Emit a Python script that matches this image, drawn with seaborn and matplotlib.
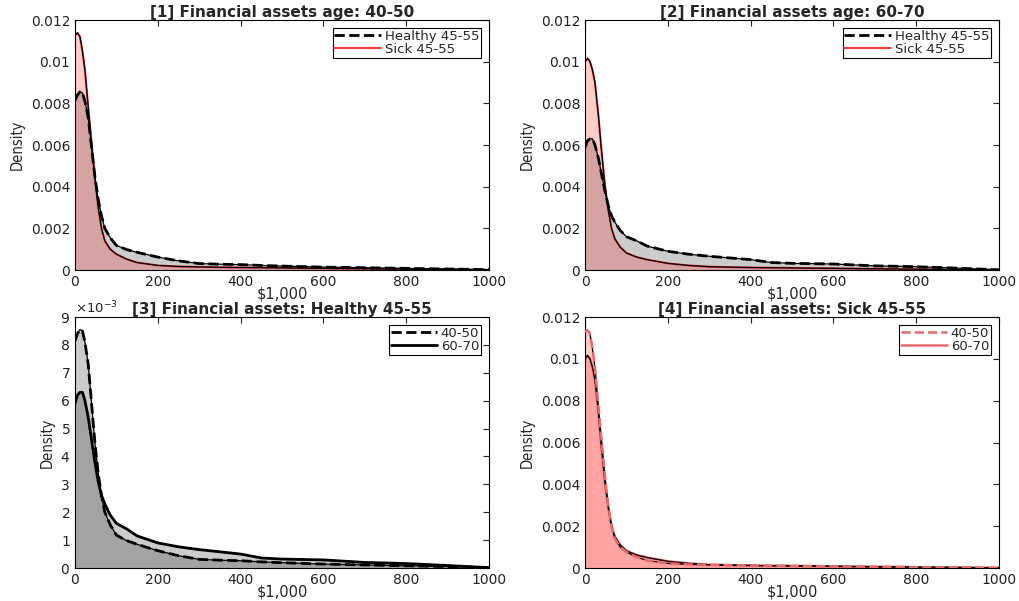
import matplotlib
matplotlib.use("Agg")
import matplotlib.pyplot as plt
import pandas as pd
import seaborn as sns

assets = [0, 6, 12, 18, 24, 32, 40, 48, 56, 64, 72, 85, 100, 125, 150, 200,
          250, 300, 350, 400, 450, 500, 600, 700, 800, 900, 1000]

healthy_40_50 = [0.00814, 0.0084, 0.00855, 0.0085, 0.0081, 0.0073, 0.0059, 0.0045,
                 0.0034, 0.0026, 0.0020, 0.00155, 0.00118, 0.00098, 0.00085,
                 0.00062, 0.00044, 0.00031, 0.00028, 0.00026, 0.00022, 0.00019,
                 0.00014, 0.00011, 0.00008, 0.00005, 0.00002]
healthy_60_70 = [0.0059, 0.0062, 0.0063, 0.0063, 0.0060, 0.0054, 0.0046, 0.0038,
                 0.0031, 0.0026, 0.0023, 0.0019, 0.0016, 0.0014, 0.00115,
                 0.0009, 0.00076, 0.00066, 0.00058, 0.00050, 0.00036, 0.00032,
                 0.00029, 0.00020, 0.00016, 0.00009, 0.00001]
sick_40_50 = [0.01128, 0.01138, 0.0112, 0.0105, 0.0096, 0.0078, 0.0061, 0.0044,
              0.0030, 0.0020, 0.0014, 0.0010, 0.00076, 0.00052, 0.00036,
              0.00022, 0.00017, 0.00015, 0.00013, 0.00012, 0.00011, 0.00010,
              0.00008, 0.00006, 0.00004, 0.00003, 0.00001]
sick_60_70 = [0.0100, 0.01016, 0.0100, 0.0096, 0.0090, 0.0075, 0.0057, 0.0041,
              0.0029, 0.0020, 0.0015, 0.0011, 0.00082, 0.00062, 0.00050,
              0.00032, 0.00022, 0.00016, 0.00014, 0.00012, 0.00011, 0.00010,
              0.00008, 0.00006, 0.00004, 0.00002, 0.00001]

RED = "#e8413f"
LIGHT_RED = "#e86a6a"
TICK_FS = 10

sns.set_style("white")
plt.rcParams["font.family"] = ["DejaVu Sans"]


def density(ax, y, label, color, fill, ls, lw):
    df = pd.DataFrame({"x": assets, "y": y})
    ax.fill_between(df.x, df.y, color=fill, alpha=0.2, linewidth=0)
    sns.lineplot(x="x", y="y", data=df, ax=ax, color=color, linestyle=ls,
                 linewidth=lw, label=label, sort=False)
    # thin black outline, as in the original
    ax.plot(df.x, df.y, color="black", linewidth=0.9, zorder=3)
    if ls == "--":
        ax.lines[-2].set_zorder(4)


def style(ax, title, ymax, yticks):
    ax.set_xlim(0, 1000)
    ax.set_ylim(0, ymax)
    ax.set_xticks(range(0, 1001, 200))
    ax.set_yticks(yticks)
    ax.tick_params(direction="in", top=True, right=True, length=4,
                   labelsize=TICK_FS, colors="#222222", width=0.8)
    for s in ax.spines.values():
        s.set_color("black")
        s.set_linewidth(0.8)
    ax.set_title(title, fontsize=11, fontweight="bold", pad=2)
    ax.set_xlabel("\\$1,000", fontsize=10.5, labelpad=-1.5)
    ax.set_ylabel("Density", fontsize=10.5, fontstretch="condensed",
                  family=["Liberation Sans Narrow", "DejaVu Sans"])
    leg = ax.legend(loc="upper right", fontsize=9.5, handlelength=3.5,
                    fancybox=False, framealpha=1, edgecolor="black",
                    borderpad=0.15, labelspacing=0.0, handletextpad=0.3,
                    borderaxespad=0.6)
    leg.get_frame().set_linewidth(0.8)


fig = plt.figure(figsize=(10.19, 6.01), dpi=100)
ax1 = fig.add_axes([0.0736, 0.5507, 0.4063, 0.4160])
ax2 = fig.add_axes([0.5741, 0.5507, 0.4063, 0.4160])
ax3 = fig.add_axes([0.0736, 0.0549, 0.4063, 0.4176])
ax4 = fig.add_axes([0.5741, 0.0549, 0.4063, 0.4176])

ytk = [0, 0.002, 0.004, 0.006, 0.008, 0.01, 0.012]
ylab = ["0", "0.002", "0.004", "0.006", "0.008", "0.01", "0.012"]

density(ax1, healthy_40_50, "Healthy 45-55", "black", "black", "--", 2.0)
density(ax1, sick_40_50, "Sick 45-55", RED, "red", "-", 1.5)
style(ax1, "[1] Financial assets age: 40-50", 0.012, ytk)

density(ax2, healthy_60_70, "Healthy 45-55", "black", "black", "--", 2.0)
density(ax2, sick_60_70, "Sick 45-55", RED, "red", "-", 1.5)
style(ax2, "[2] Financial assets age: 60-70", 0.012, ytk)

density(ax3, healthy_40_50, "40-50", "black", "black", "--", 2.0)
density(ax3, healthy_60_70, "60-70", "black", "black", "-", 2.0)
style(ax3, "[3] Financial assets: Healthy 45-55", 0.009,
      [i * 0.001 for i in range(10)])
ax3.ticklabel_format(axis="y", style="sci", scilimits=(-3, -3), useMathText=True)
ax3.yaxis.get_offset_text().set_fontsize(9.5)

density(ax4, sick_40_50, "40-50", LIGHT_RED, "red", "--", 1.8)
density(ax4, sick_60_70, "60-70", LIGHT_RED, "red", "-", 1.8)
style(ax4, "[4] Financial assets: Sick 45-55", 0.012, ytk)

for ax in (ax1, ax2, ax4):
    ax.set_yticklabels(ylab)

fig.savefig("out.png", dpi=100)
